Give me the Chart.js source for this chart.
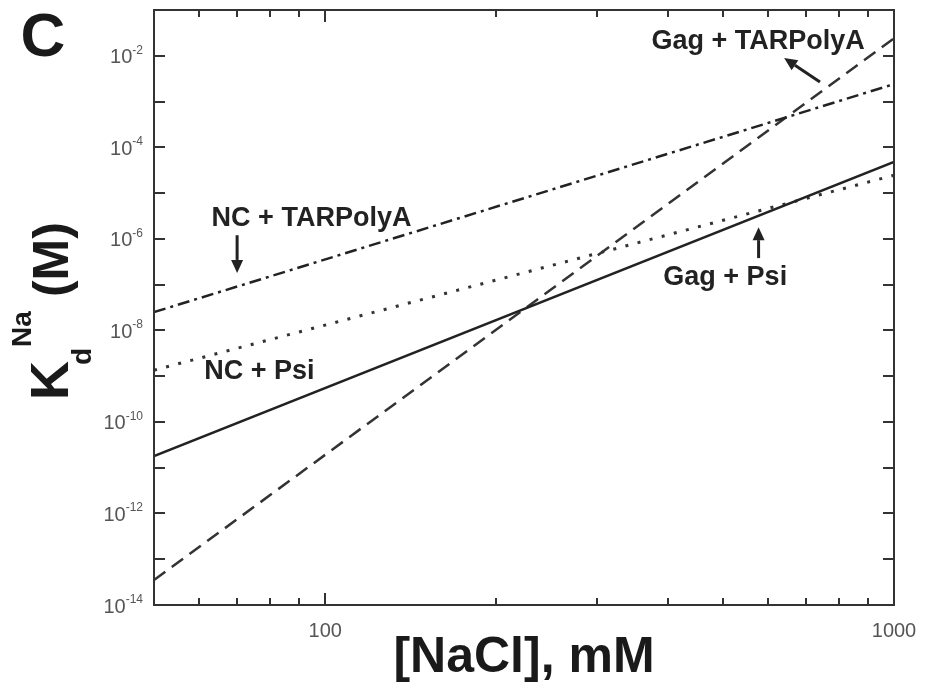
<!DOCTYPE html>
<html>
<head>
<meta charset="utf-8">
<script src="https://cdn.jsdelivr.net/npm/chart.js@4.4.1/dist/chart.umd.min.js"></script>
<style>
  html, body { margin: 0; padding: 0; background: #fff; }
  #wrap { width: 932px; height: 685px; }
</style>
</head>
<body>
<div id="wrap"><canvas id="chart" width="932" height="685"></canvas></div>
<script>
// [NaCl] in mM, the end points of every fitted line
const nacl = [50, 1000];

// Kd (M) at 50 and 1000 mM
const gagPsi = [1.8e-11, 4.8e-5];
const ncPsi = [1.35e-9, 2.45e-5];
const ncTar = [2.5e-8, 2.4e-3];
const gagTar = [3.5e-14, 2.4e-2];

// axis ticks
const yDecades = [-14, -13, -12, -11, -10, -9, -8, -7, -6, -5, -4, -3, -2, -1];
const yLabelExps = [-14, -12, -10, -8, -6, -4, -2];
const xMinor = [60, 70, 80, 90, 200, 300, 400, 500, 600, 700, 800, 900];
const xMajor = [100, 1000];

// labels on the plot: text, [NaCl], Kd
const notes = [
  ['Gag + TARPolyA', 577, 2.0e-2],
  ['NC + TARPolyA', 94.6, 2.8e-6],
  ['NC + Psi', 76.6, 1.23e-9],
  ['Gag + Psi', 505, 1.46e-7]
];
// arrows: from [x, y] to tip [x, y]
const arrows = [
  [[741, 2.67e-3], [641, 8.9e-3]],
  [[70, 1.2e-6], [70, 1.8e-7]],
  [[578, 3.8e-7], [578, 1.8e-6]]
];

const pts = vals => nacl.map((n, i) => ({ x: n, y: vals[i] }));
const FONT = "'Liberation Sans', Arial, sans-serif";

function arrow(ctx, x1, y1, x2, y2) {
  const ang = Math.atan2(y2 - y1, x2 - x1);
  const hl = 13, hw = 6;
  const bx = x2 - hl * Math.cos(ang), by = y2 - hl * Math.sin(ang);
  ctx.beginPath();
  ctx.moveTo(x1, y1);
  ctx.lineTo(bx, by);
  ctx.lineWidth = 3;
  ctx.stroke();
  ctx.beginPath();
  ctx.moveTo(x2, y2);
  ctx.lineTo(bx + hw * Math.sin(ang), by - hw * Math.cos(ang));
  ctx.lineTo(bx - hw * Math.sin(ang), by + hw * Math.cos(ang));
  ctx.closePath();
  ctx.fill();
}

const decor = {
  id: 'decor',
  afterDraw(chart) {
    const { ctx, chartArea: a, scales: { x, y } } = chart;
    ctx.save();

    // frame
    ctx.strokeStyle = '#333';
    ctx.lineWidth = 2;
    ctx.strokeRect(a.left, a.top, a.right - a.left, a.bottom - a.top);

    // ticks pointing inward on all four sides
    ctx.lineWidth = 2;
    ctx.beginPath();
    yDecades.forEach(k => {
      const py = Math.round(y.getPixelForValue(Math.pow(10, k)));
      if (py <= a.top + 1 || py >= a.bottom - 1) return;
      ctx.moveTo(a.left, py); ctx.lineTo(a.left + 11, py);
      ctx.moveTo(a.right, py); ctx.lineTo(a.right - 11, py);
    });
    xMinor.concat(xMajor).forEach(v => {
      const px = Math.round(x.getPixelForValue(v));
      if (px >= a.right - 1) return;
      const len = xMajor.includes(v) ? 12 : 7;
      ctx.moveTo(px, a.bottom); ctx.lineTo(px, a.bottom - len);
      ctx.moveTo(px, a.top); ctx.lineTo(px, a.top + len);
    });
    ctx.stroke();

    // y tick labels 10^k
    ctx.fillStyle = '#555';
    ctx.textAlign = 'right';
    yLabelExps.forEach(k => {
      const py = y.getPixelForValue(Math.pow(10, k));
      const exp = '-' + Math.abs(k);
      ctx.font = '12px ' + FONT;
      const ew = ctx.measureText(exp).width;
      ctx.textBaseline = 'alphabetic';
      ctx.fillText(exp, a.left - 11, py - 2);
      ctx.font = '20px ' + FONT;
      ctx.textBaseline = 'middle';
      ctx.fillText('10', a.left - 11 - ew, py + 2);
    });

    // x tick labels
    ctx.textAlign = 'center';
    ctx.textBaseline = 'middle';
    ctx.font = '20px ' + FONT;
    xMajor.forEach(v => {
      ctx.fillText(String(v), x.getPixelForValue(v), a.bottom + 26);
    });

    // notes and arrows
    ctx.fillStyle = '#222';
    ctx.strokeStyle = '#222';
    ctx.font = 'bold 27px ' + FONT;
    notes.forEach(([t, vx, vy]) => {
      ctx.fillText(t, x.getPixelForValue(vx), y.getPixelForValue(vy));
    });
    arrows.forEach(([f, t]) => {
      arrow(ctx, x.getPixelForValue(f[0]), y.getPixelForValue(f[1]),
        x.getPixelForValue(t[0]), y.getPixelForValue(t[1]));
    });

    // x axis title
    ctx.fillStyle = '#1a1a1a';
    ctx.font = 'bold 50px ' + FONT;
    ctx.textBaseline = 'alphabetic';
    ctx.fillText('[NaCl], mM', (a.left + a.right) / 2, 672);

    // y axis title K_d^Na (M), rotated
    ctx.save();
    ctx.translate(68, 400);
    ctx.rotate(-Math.PI / 2);
    ctx.textAlign = 'left';
    ctx.font = 'bold 54px ' + FONT;
    ctx.fillText('K', 0, 0);
    let u = ctx.measureText('K').width - 4;
    ctx.font = 'bold 28px ' + FONT;
    ctx.fillText('d', u, 23);
    u += ctx.measureText('d').width + 1;
    ctx.fillText('Na', u, -37);
    u += ctx.measureText('Na').width + 14;
    ctx.font = 'bold 50px ' + FONT;
    ctx.fillText('(M)', u, 0);
    ctx.restore();

    // panel letter
    ctx.font = 'bold 62px ' + FONT;
    ctx.textAlign = 'center';
    ctx.fillText('C', 43, 56);

    ctx.restore();
  }
};

const chart = document.querySelector('#chart').getContext('2d');

new Chart(chart, {
  type: 'line',
  data: {
    datasets: [
      { label: 'Gag + Psi', data: pts(gagPsi), borderColor: '#222', borderWidth: 2.5 },
      { label: 'NC + Psi', data: pts(ncPsi), borderColor: '#333', borderWidth: 3, borderDash: [3, 9.5] },
      { label: 'NC + TARPolyA', data: pts(ncTar), borderColor: '#222', borderWidth: 2.5, borderDash: [12, 5, 3, 5] },
      { label: 'Gag + TARPolyA', data: pts(gagTar), borderColor: '#333', borderWidth: 2.5, borderDash: [14, 8] }
    ]
  },
  options: {
    responsive: false,
    animation: false,
    layout: { padding: { left: 154, right: 38, top: 10, bottom: 80 } },
    elements: { point: { radius: 0 }, line: { tension: 0 } },
    plugins: { legend: { display: false }, tooltip: { enabled: false } },
    scales: {
      x: { type: 'logarithmic', min: 50, max: 1000, display: false },
      y: { type: 'logarithmic', min: 1e-14, max: 1e-1, display: false }
    }
  },
  plugins: [decor]
});
</script>
</body>
</html>
